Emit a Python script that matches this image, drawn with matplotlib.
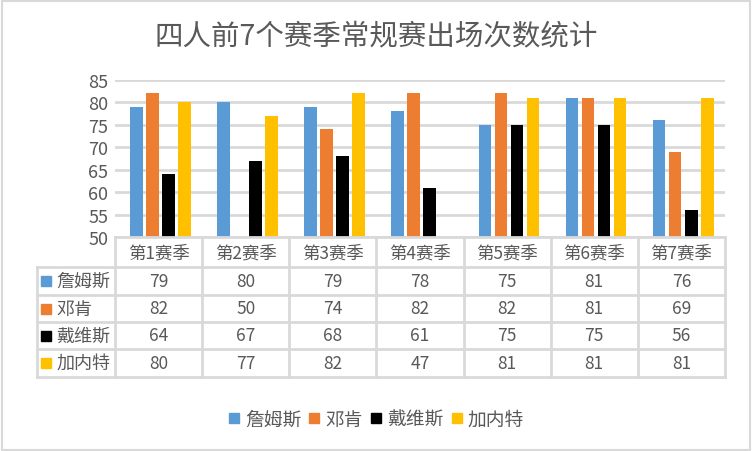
import matplotlib
matplotlib.use('Agg')
import matplotlib.pyplot as plt
from matplotlib.patches import Rectangle
import numpy as np

plt.rcParams['font.family'] = ['Noto Sans CJK SC', 'DejaVu Sans']

seasons = ['第1赛季', '第2赛季', '第3赛季', '第4赛季', '第5赛季', '第6赛季', '第7赛季']
players = ['詹姆斯', '邓肯', '戴维斯', '加内特']
james = [79, 80, 79, 78, 75, 81, 76]
duncan = [82, 50, 74, 82, 82, 81, 69]
davis = [64, 67, 68, 61, 75, 75, 56]
garnett = [80, 77, 82, 47, 81, 81, 81]
series = [james, duncan, davis, garnett]
colors = ['#5B9BD5', '#ED7D31', '#000000', '#FFC000']
yticks = [50, 55, 60, 65, 70, 75, 80, 85]

txt = '#595959'
grid = '#D9D9D9'
W, H = 752, 452
fig = plt.figure(figsize=(W / 100, H / 100), dpi=100)

def fx(px):
    return px / W

def fy(py):
    return 1 - py / H

# outer border
fig.patches.append(Rectangle((0.002, 0.003), 0.995, 0.993, transform=fig.transFigure,
                             fill=False, edgecolor=grid, lw=1.5))

fig.text(0.5, fy(36), '四人前7个赛季常规赛出场次数统计', ha='center', va='center',
         fontsize=20.5, color=txt)

# bar area
left, right, top, bottom = 115, 725, 81, 238
ax = fig.add_axes([fx(left), fy(bottom), fx(right - left), fy(top) - fy(bottom)])
x = np.arange(len(seasons))
bw = 0.145
step = 0.184
for i, (vals, c) in enumerate(zip(series, colors)):
    ax.bar(x + (i - 1.5) * step + 0.02, vals, width=bw, color=c, zorder=3)
ax.set_xlim(-0.5, len(seasons) - 0.5)
ax.set_ylim(50, 85)
ax.set_yticks(yticks)
ax.yaxis.grid(True, color=grid, lw=2, zorder=0)
ax.tick_params(axis='y', length=0, labelsize=13, labelcolor=txt, pad=5)
ax.set_xticks([])
for s in ax.spines.values():
    s.set_visible(False)

# data table
tbl_bottom = 378
row_lines = [238, 268, 296, 323, 350, 378]
lab_left = 37
ppu = (right - left) / len(seasons)
lab_w = (left - lab_left) / ppu
tax = fig.add_axes([fx(lab_left), fy(tbl_bottom), fx(right - lab_left), fy(238) - fy(tbl_bottom)])
tax.set_xlim(-0.5 - lab_w, len(seasons) - 0.5)
tax.set_ylim(tbl_bottom, 238)
tax.axis('off')
lc = dict(color=grid, lw=2, clip_on=False)
# horizontal lines
tax.plot([-0.5, len(seasons) - 0.5], [238, 238], **lc)
for yy in row_lines[1:]:
    tax.plot([-0.5 - lab_w, len(seasons) - 0.5], [yy, yy], **lc)
# vertical lines
tax.plot([-0.5 - lab_w] * 2, [268, tbl_bottom], **lc)
for k in range(len(seasons) + 1):
    tax.plot([k - 0.5] * 2, [238, tbl_bottom], **lc)
# header
for k, s in enumerate(seasons):
    tax.text(k, (row_lines[0] + row_lines[1]) / 2, s, ha='center', va='center',
             fontsize=12.5, color=txt)
# rows
for r, (name, vals, c) in enumerate(zip(players, series, colors)):
    yc = (row_lines[r + 1] + row_lines[r + 2]) / 2
    tax.plot(-0.5 - lab_w + 0.1, yc, 's', ms=7.5, color=c, clip_on=False)
    tax.text(-0.5 - lab_w + 0.22, yc, name, ha='left', va='center', fontsize=13, color=txt)
    for k, v in enumerate(vals):
        tax.text(k, yc, str(v), ha='center', va='center', fontsize=12.5, color=txt)

# legend
handles = [plt.Line2D([], [], marker='s', ls='', ms=7, color=c) for c in colors]
fig.legend(handles, players, loc='center', bbox_to_anchor=(0.5, fy(420)), ncol=4,
           frameon=False, fontsize=13.5, handlelength=0.6, handletextpad=0.3,
           columnspacing=0.4, labelcolor=txt)

fig.savefig('out.png', dpi=100)
